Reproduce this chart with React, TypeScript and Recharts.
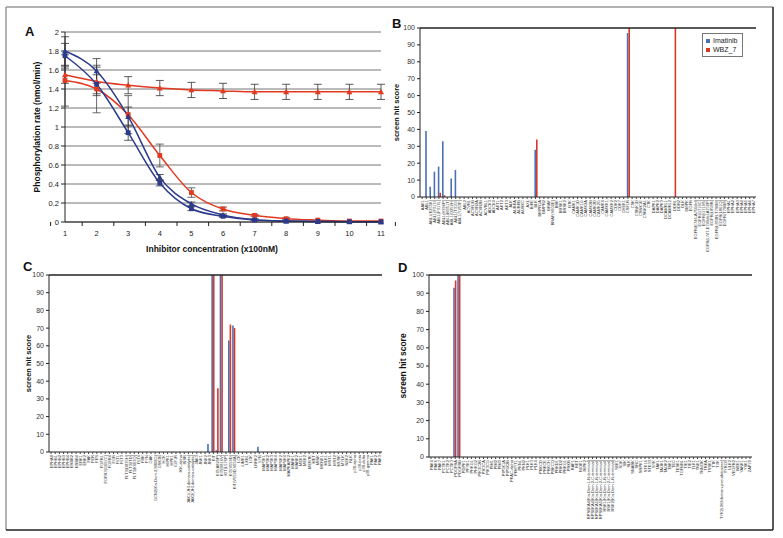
import React from "react";
import {
  LineChart,
  Line,
  XAxis,
  YAxis,
  CartesianGrid,
  ErrorBar,
  BarChart,
  Bar,
  ReferenceLine,
  Legend,
} from "recharts";

const FONT = "'Liberation Sans', Arial, sans-serif";
const BLUE_LINE = "#2b3a8c";
const RED_LINE = "#e2391f";
const BLUE_BAR = "#4a70b6";
const RED_BAR = "#d9372a";

// ---- panel A: dose response ----
const concentrations = ["1", "2", "3", "4", "5", "6", "7", "8", "9", "10", "11"];
const blueTriangle = [1.8, 1.59, 1.11, 0.47, 0.19, 0.075, 0.025, 0.01, 0.005, 0.003, 0.002];
const blueTriangleErr = [0.15, 0.13, 0.1, 0.03, 0.02, 0.01, 0.01, 0, 0, 0, 0];
const blueSquare = [1.75, 1.45, 0.94, 0.41, 0.14, 0.06, 0.02, 0.01, 0.004, 0.002, 0.001];
const blueSquareErr = [0.13, 0.1, 0.08, 0.03, 0.02, 0.01, 0, 0, 0, 0, 0];
const redSquare = [1.49, 1.4, 1.13, 0.7, 0.31, 0.137, 0.07, 0.035, 0.02, 0.01, 0.01];
const redSquareErr = [0.27, 0.25, 0.2, 0.12, 0.05, 0.02, 0.01, 0.01, 0, 0, 0];
const redTriangle = [1.55, 1.48, 1.44, 1.41, 1.39, 1.38, 1.37, 1.37, 1.37, 1.37, 1.37];
const redTriangleErr = [0.09, 0.15, 0.09, 0.08, 0.08, 0.08, 0.08, 0.08, 0.08, 0.08, 0.08];
const rateTicks = [0, 0.2, 0.4, 0.6, 0.8, 1, 1.2, 1.4, 1.6, 1.8, 2];

// ---- panels B, C, D: kinase screen ----
const seriesNames = ["Imatinib", "WBZ_7"];
const scoreTicks = [0, 10, 20, 30, 40, 50, 60, 70, 80, 90, 100];

const kinasesB = [
  "AAK1", "ABL1", "ABL1(E255K)", "ABL1(F317I)", "ABL1(F317L)", "ABL1(H396P)", "ABL1(M351T)",
  "ABL1(Q252H)", "ABL1(T315I)", "ABL1(Y253F)", "ABL2", "ACVR1", "ACVR1B", "ACVR2A", "ACVR2B",
  "ACVRL1", "ADCK3", "ADCK4", "AKT1", "AKT2", "AKT3", "ALK", "AURKA", "AURKB", "AURKC", "AXL",
  "BIKE", "BLK", "BMPR1A", "BMPR2", "BRAF", "BRAF(V600E)", "BRK", "BRSK1", "BRSK2", "BTK",
  "CAMK1", "CAMK1D", "CAMK1G", "CAMK2A", "CAMK2B", "CAMK2D", "CAMK2G", "CAMK4", "CAMKK1",
  "CAMKK2", "CDK2", "CDK7", "CHEK1", "CSF1R", "CSK", "CSNK1D", "CSNK1E", "CSNK2A1", "CTK",
  "DAPK1", "DAPK2", "DAPK3", "DCAMKL1", "DCAMKL2", "DDR1", "DDR2", "DLK", "DMPK",
  "EGFR", "EGFR(E746-A750del)", "EGFR(G719C)", "EGFR(G719S)", "EGFR(L747-E749del,A750P)",
  "EGFR(L858R)", "EGFR(L858R,T790M)", "EGFR(L861Q)", "EGFR(T790M)", "EPHA1", "EPHA2",
  "EPHA3", "EPHA4", "EPHA5", "EPHA6", "EPHA7",
];
const imatinibB: Record<string, number> = {
  ABL1: 39, "ABL1(E255K)": 6, "ABL1(F317I)": 15, "ABL1(F317L)": 18, "ABL1(H396P)": 33,
  "ABL1(Q252H)": 11, "ABL1(T315I)": 16, BLK: 28, CSF1R: 97,
};
const wbzB: Record<string, number> = {
  "ABL1(F317L)": 2.5, "ABL1(H396P)": 1, BLK: 34, CSF1R: 100, DDR1: 100,
};

const kinasesC = [
  "EPHA8", "EPHB1", "EPHB2", "EPHB3", "EPHB4", "ERBB2", "ERBB4", "ERK1", "ERK2", "FAK", "FER",
  "FES", "FGFR1", "FGFR3(G697C)", "FGFR4", "FGR", "FLT1", "FLT3", "FLT3(D835H)", "FLT3(ITD)",
  "FLT3(K663Q)", "FLT4", "FRK", "FYN", "GAK", "GCN2(Kin.Dom.2,S808G)", "GSK3B", "HCK", "HIPK1",
  "HPK1", "IGF1R", "IKK-alpha", "INSR", "JAK1(JH1domain-catalytic)", "JAK2(JH1domain-catalytic)",
  "JAK3", "JNK1", "JNK2", "JNK3", "KIT", "KIT(A829P)", "KIT(D816V)", "KIT(L576P)", "KIT(V559D)",
  "KIT(V559D,V654A)", "LCK", "LIMK1", "LKB1", "LOK", "LRRK2", "LYN", "MAP3K1", "MAP3K2",
  "MAP3K3", "MAP3K4", "MAP4K2", "MAP4K4", "MAPKAPK2", "MARK1", "MARK2", "MEK1", "MEK2",
  "MERTK", "MET", "MINK", "MKNK1", "MLK1", "MST1", "MST2", "MUSK", "MYLK", "NEK2", "NLK",
  "p38-alpha", "p38-beta", "p38-delta", "p38-gamma", "PAK1", "PAK2", "PAK3",
];
const imatinibC: Record<string, number> = {
  JNK3: 4.5, KIT: 100, "KIT(A829P)": 1, "KIT(D816V)": 100, "KIT(V559D)": 63,
  "KIT(V559D,V654A)": 71.5, LYN: 3,
};
const wbzC: Record<string, number> = {
  KIT: 100, "KIT(A829P)": 36, "KIT(D816V)": 100, "KIT(V559D)": 72, "KIT(V559D,V654A)": 70,
};

const kinasesD = [
  "PAK4", "PAK6", "PAK7", "PCTK1", "PCTK2", "PCTK3", "PDGFRA", "PDGFRB", "PDPK1", "PFTK1",
  "PHKG1", "PHKG2", "PIK3C2B", "PIK3CA", "PIK3CG", "PIM1", "PIM2", "PIM3", "PIP5K1A",
  "PIP5K2B", "PKAC-alpha", "PKMYT1", "PKN1", "PKN2", "PLK1", "PLK3", "PLK4", "PRKCD", "PRKCE",
  "PRKCH", "PRKCQ", "PRKD1", "PRKD2", "PRKG1", "PRKR", "RAF1", "RET", "RIOK1", "RIPK2",
  "RPS6KA4(Kin.Dom.1-N-terminal)", "RPS6KA4(Kin.Dom.2-C-terminal)", "RPS6KA5(Kin.Dom.1-N-terminal)",
  "RPS6KA5(Kin.Dom.2-C-terminal)", "RSK1(Kin.Dom.1-N-terminal)", "RSK1(Kin.Dom.2-C-terminal)",
  "RSK2(Kin.Dom.1-N-terminal)", "S6K1", "SGK", "SIK", "SLK", "SNARK", "SRC", "SRPK1", "STK16",
  "STK33", "SYK", "TAK1", "TAOK1", "TAOK2", "TBK1", "TEC", "TESK1", "TGFBR1", "TIE1", "TIE2",
  "TLK1", "TNK1", "TNNI3K", "TRKA", "TSSK1", "TTK", "TXK", "TYK2(JH2domain-pseudokinase)",
  "TYRO3", "ULK2", "VEGFR2", "WEE1", "YANK1", "YSK1", "ZAP70",
];
const imatinibD: Record<string, number> = { PDGFRA: 93, PDGFRB: 100 };
const wbzD: Record<string, number> = { PDGFRA: 97, PDGFRB: 100 };

const doseData = concentrations.map((c, i) => ({
  c,
  bt: blueTriangle[i],
  btErr: blueTriangleErr[i],
  bs: blueSquare[i],
  bsErr: blueSquareErr[i],
  rs: redSquare[i],
  rsErr: redSquareErr[i],
  rt: redTriangle[i],
  rtErr: redTriangleErr[i],
}));

const screenData = (names: string[], a: Record<string, number>, b: Record<string, number>) =>
  names.map((name) => ({ name, imatinib: a[name] ?? 0, wbz: b[name] ?? 0 }));

const squareDot = (color: string) => (p: any) => {
  const { cx, cy, index } = p;
  if (cx == null || cy == null) return <g key={index} />;
  return <rect key={index} x={cx - 2.4} y={cy - 2.4} width={4.8} height={4.8} fill={color} />;
};

const triangleDot = (color: string) => (p: any) => {
  const { cx, cy, index } = p;
  if (cx == null || cy == null) return <g key={index} />;
  return (
    <path key={index} d={`M${cx},${cy - 3} L${cx + 3},${cy + 2.4} L${cx - 3},${cy + 2.4} Z`} fill={color} />
  );
};

const ConcTick = (p: any) => {
  const { x, y, payload, index } = p;
  const half = payload.offset || 14.4;
  return (
    <g>
      <line x1={x - half} x2={x - half} y1={y - 6} y2={y - 2} stroke="#222" />
      {index === concentrations.length - 1 && (
        <line x1={x + half} x2={x + half} y1={y - 6} y2={y - 2} stroke="#222" />
      )}
      <text x={x} y={y + 8} textAnchor="middle" fontSize={7.5} fill="#222" fontFamily={FONT}>
        {payload.value}
      </text>
    </g>
  );
};

const KinaseTick = (p: any) => {
  const { x, y, payload } = p;
  return (
    <text
      x={x}
      y={y}
      transform={`rotate(-90 ${x} ${y})`}
      textAnchor="end"
      dominantBaseline="central"
      fontSize={4}
      fill="#333"
      fontFamily={FONT}
    >
      {payload.value}
    </text>
  );
};

const YTitle = (p: any) => {
  const { viewBox, value, dx = 0, size = 8 } = p;
  const cx = viewBox.x + dx;
  const cy = viewBox.y + viewBox.height / 2;
  return (
    <text
      x={cx}
      y={cy}
      transform={`rotate(-90 ${cx} ${cy})`}
      textAnchor="middle"
      dominantBaseline="central"
      fontSize={size}
      fontWeight="bold"
      fill="#111"
      fontFamily={FONT}
    >
      {value}
    </text>
  );
};

const XTitle = (p: any) => {
  const { viewBox, value } = p;
  return (
    <text
      x={viewBox.x + viewBox.width / 2 - 11}
      y={viewBox.y + 30}
      textAnchor="middle"
      fontSize={8.5}
      fontWeight="bold"
      fill="#111"
      fontFamily={FONT}
    >
      {value}
    </text>
  );
};

const ScreenLegend = (p: any) => (
  <div
    style={{
      border: "1px solid #777",
      background: "#fff",
      padding: "2px 4px 2px 3px",
      fontSize: 7,
      lineHeight: "9px",
      fontFamily: FONT,
      color: "#222",
    }}
  >
    {(p.payload || []).map((e: any) => (
      <div key={e.value} style={{ display: "flex", alignItems: "center" }}>
        <span style={{ width: 4, height: 4, background: e.color, marginRight: 3, display: "inline-block" }} />
        {e.value}
      </div>
    ))}
  </div>
);

type PanelProps = {
  data: { name: string; imatinib: number; wbz: number }[];
  left: number;
  top: number;
  height: number;
  margin: { top: number; right: number; left: number; bottom: number };
  xHeight: number;
  titleDx: number;
  titleSize: number;
  legend?: boolean;
};

const ScreenPanel = ({ data, left, top, height, margin, xHeight, titleDx, titleSize, legend }: PanelProps) => (
  <div style={{ position: "absolute", left, top }}>
    <BarChart width={400} height={height} data={data} margin={margin} barGap={0} barSize={1.6}>
      <XAxis
        dataKey="name"
        interval={0}
        height={xHeight}
        tick={<KinaseTick />}
        tickSize={2}
        tickMargin={1}
        axisLine={{ stroke: "#222" }}
        tickLine={{ stroke: "#444" }}
      />
      <YAxis
        width={25}
        domain={[0, 100]}
        ticks={scoreTicks}
        interval={0}
        tickSize={3}
        tickMargin={2}
        axisLine={{ stroke: "#222" }}
        tickLine={{ stroke: "#222" }}
        tick={{ fontSize: 7, fill: "#333", fontFamily: FONT }}
        label={<YTitle value="screen hit score" dx={titleDx} size={titleSize} />}
      />
      <YAxis yAxisId="frame" orientation="right" width={0} domain={[0, 100]} tick={false} tickLine={false} axisLine={{ stroke: "#444" }} />
      <ReferenceLine y={100} stroke="#222" strokeWidth={1.3} />
      {legend && (
        <Legend
          verticalAlign="middle"
          layout="vertical"
          align="center"
          content={<ScreenLegend />}
          wrapperStyle={{ position: "absolute", top: 33, left: 322, width: "auto" }}
        />
      )}
      <Bar dataKey="imatinib" name={seriesNames[0]} fill={BLUE_BAR} isAnimationActive={false} />
      <Bar dataKey="wbz" name={seriesNames[1]} fill={RED_BAR} isAnimationActive={false} />
    </BarChart>
  </div>
);

export default function App() {
  return (
    <div
      style={{
        position: "absolute",
        left: 0,
        top: 0,
        width: 783,
        height: 538,
        background: "#fff",
        fontFamily: FONT,
        overflow: "hidden",
      }}
    >
      <div style={{ position: "absolute", left: 0, top: 0 }}>
        <LineChart width={400} height={258} data={doseData} margin={{ top: 32, right: 19, left: 35, bottom: 4 }}>
          <CartesianGrid vertical={false} stroke="#777" />
          <XAxis
            dataKey="c"
            height={32}
            tickLine={false}
            tickSize={4}
            tickMargin={2}
            interval={0}
            axisLine={{ stroke: "#222" }}
            tick={<ConcTick />}
            label={<XTitle value="Inhibitor concentration (x100nM)" />}
          />
          <YAxis
            width={30}
            domain={[0, 2]}
            ticks={rateTicks}
            interval={0}
            tickSize={4}
            tickMargin={2}
            axisLine={{ stroke: "#222" }}
            tickLine={{ stroke: "#222" }}
            tick={{ fontSize: 7.5, fill: "#222", fontFamily: FONT }}
            label={<YTitle value="Phosphorylation rate (nmol/min)" dx={2} size={8.5} />}
          />
          <YAxis yAxisId="frame" orientation="right" width={0} domain={[0, 2]} tick={false} tickLine={false} axisLine={{ stroke: "#222" }} />
          <Line type="monotone" dataKey="rt" stroke={RED_LINE} strokeWidth={1.5} dot={triangleDot(RED_LINE)} isAnimationActive={false}>
            <ErrorBar dataKey="rtErr" width={4} stroke="#333" strokeWidth={0.8} />
          </Line>
          <Line type="monotone" dataKey="rs" stroke={RED_LINE} strokeWidth={1.5} dot={squareDot(RED_LINE)} isAnimationActive={false}>
            <ErrorBar dataKey="rsErr" width={4} stroke="#444" strokeWidth={0.8} />
          </Line>
          <Line type="monotone" dataKey="bs" stroke={BLUE_LINE} strokeWidth={1.5} dot={squareDot(BLUE_LINE)} isAnimationActive={false}>
            <ErrorBar dataKey="bsErr" width={4} stroke="#333" strokeWidth={0.8} />
          </Line>
          <Line type="monotone" dataKey="bt" stroke={BLUE_LINE} strokeWidth={1.5} dot={triangleDot(BLUE_LINE)} isAnimationActive={false}>
            <ErrorBar dataKey="btErr" width={4} stroke="#333" strokeWidth={0.8} />
          </Line>
        </LineChart>
      </div>

      <ScreenPanel
        data={screenData(kinasesB, imatinibB, wbzB)}
        left={380}
        top={0}
        height={262}
        margin={{ top: 28, right: 24, left: 15, bottom: 3 }}
        xHeight={62}
        titleDx={1}
        titleSize={7.5}
        legend
      />
      <ScreenPanel
        data={screenData(kinasesC, imatinibC, wbzC)}
        left={0}
        top={250}
        height={288}
        margin={{ top: 25, right: 18, left: 24, bottom: 6 }}
        xHeight={80}
        titleDx={4}
        titleSize={7.5}
      />
      <ScreenPanel
        data={screenData(kinasesD, imatinibD, wbzD)}
        left={380}
        top={250}
        height={288}
        margin={{ top: 25, right: 28, left: 24, bottom: 6 }}
        xHeight={75}
        titleDx={-1}
        titleSize={8.5}
      />

      <svg width={783} height={538} style={{ position: "absolute", left: 0, top: 0, pointerEvents: "none" }}>
        <line x1={6} y1={7} x2={773} y2={7} stroke="#999" strokeWidth={1.5} />
        <line x1={6} y1={7} x2={6} y2={530} stroke="#999" strokeWidth={1.5} />
        <line x1={773} y1={7} x2={773} y2={530} stroke="#222" strokeWidth={1.5} />
        <line x1={6} y1={530} x2={773} y2={530} stroke="#222" strokeWidth={1.5} />
        <g fontFamily={FONT} fontWeight="bold" fontSize={13} fill="#111">
          <text x={25} y={36}>A</text>
          <text x={392} y={28}>B</text>
          <text x={23} y={271}>C</text>
          <text x={398} y={272}>D</text>
        </g>
      </svg>
    </div>
  );
}
